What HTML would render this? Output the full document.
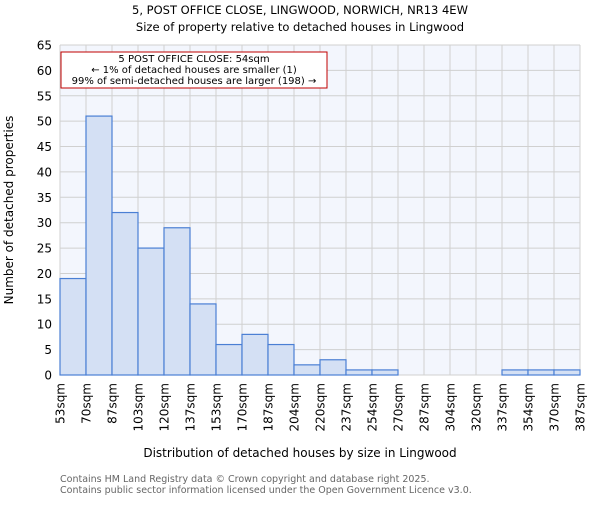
<!DOCTYPE html>
<html><head><meta charset="utf-8"><style>body{margin:0;background:#fff}svg{font-family:"DejaVu Sans","Liberation Sans",sans-serif}</style></head>
<body>
<svg id="c" width="600" height="500" xmlns="http://www.w3.org/2000/svg">
<text x="300" y="14" font-size="11.5" text-anchor="middle">5, POST OFFICE CLOSE, LINGWOOD, NORWICH, NR13 4EW</text>
<text x="300" y="31" font-size="11.5" text-anchor="middle">Size of property relative to detached houses in Lingwood</text>
<rect x="60" y="45" width="520" height="330" fill="#f3f6fd"/>
<g id="grid"></g><g id="bars"></g><g id="yt"></g><g id="xt"></g>
<text x="300" y="457" font-size="12" text-anchor="middle">Distribution of detached houses by size in Lingwood</text>
<text transform="translate(13,210) rotate(-90)" font-size="12" text-anchor="middle">Number of detached properties</text>
<rect x="61" y="52" width="266" height="36" fill="#fff" stroke="#c00000" stroke-width="1"/>
<text font-size="10" text-anchor="middle"><tspan x="194" y="62">5 POST OFFICE CLOSE: 54sqm</tspan><tspan x="194" y="73">← 1% of detached houses are smaller (1)</tspan><tspan x="194" y="84">99% of semi-detached houses are larger (198) →</tspan></text>
<text x="60" y="482" font-size="9.5" fill="#666">Contains HM Land Registry data © Crown copyright and database right 2025.</text>
<text x="60" y="493" font-size="9.5" fill="#666">Contains public sector information licensed under the Open Government Licence v3.0.</text>
</svg>
<script>
const categories=["53sqm","70sqm","87sqm","103sqm","120sqm","137sqm","153sqm","170sqm","187sqm","204sqm","220sqm","237sqm","254sqm","270sqm","287sqm","304sqm","320sqm","337sqm","354sqm","370sqm","387sqm"];
const counts=[19,51,32,25,29,14,6,8,6,2,3,1,1,0,0,0,0,1,1,1];
const yTicks=[0,5,10,15,20,25,30,35,40,45,50,55,60,65];
const NS="http://www.w3.org/2000/svg";
const X0=60,X1=580,Y0=375,Y1=45,YMAX=65;
const n=counts.length,bw=(X1-X0)/n;
const xs=i=>X0+i*bw, ys=v=>Y0-(v/YMAX)*(Y0-Y1);
function mk(t,a,p){const e=document.createElementNS(NS,t);for(const k in a)e.setAttribute(k,a[k]);document.getElementById(p).appendChild(e);return e;}
yTicks.forEach(v=>{
 const l=mk('line',{x1:X0,x2:X1,y1:ys(v),y2:ys(v),stroke:'#d0d0d0','stroke-width':1},'grid');
 
 
 const t=mk('text',{x:X0-8,y:ys(v)+4.5,'font-size':12,'text-anchor':'end'},'yt');t.textContent=v;
 
 
});
categories.forEach((c,i)=>{
 const l=mk('line',{x1:xs(i),x2:xs(i),y1:Y1,y2:Y0,stroke:'#d0d0d0','stroke-width':1},'grid');
 
 
 const x=xs(i)+4.5,y=Y0+8;
 const t=mk('text',{x:x,y:y,'font-size':12,'text-anchor':'end',transform:`rotate(-90 ${x} ${y})`},'xt');t.textContent=c;
 
 
});
counts.forEach((v,i)=>{
 const r=mk('rect',{x:xs(i),y:ys(v),width:bw,height:Y0-ys(v),fill:'#d4e0f4',stroke:'#4a7fd4','stroke-width':1.2},'bars');
 
 
});
</script>
</body></html>
